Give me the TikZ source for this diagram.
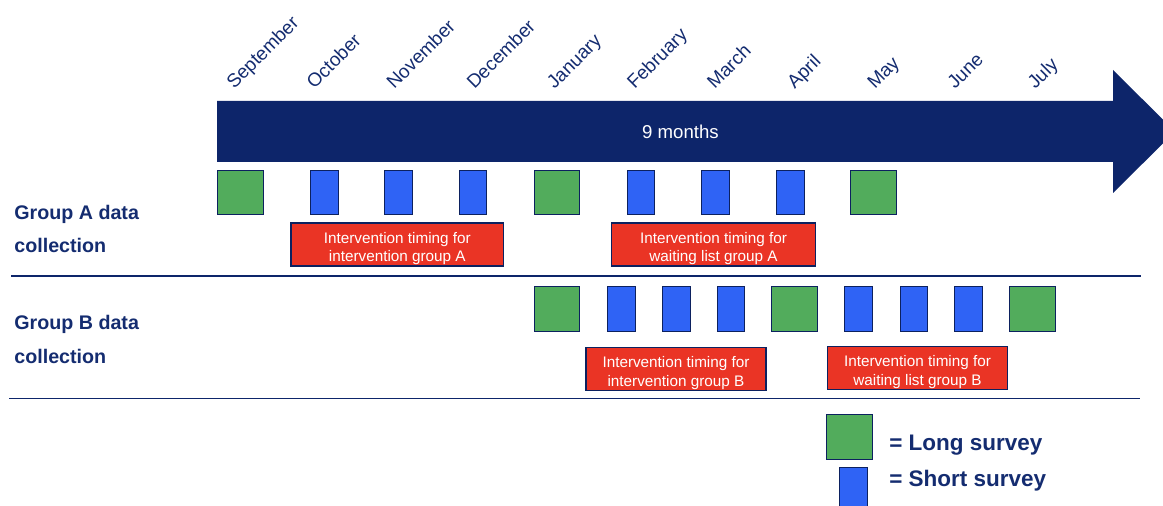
\documentclass[tikz,border=0pt]{standalone}
\usepackage{fontspec}
\setmainfont{Liberation Sans}
\usetikzlibrary{calc}
\definecolor{navy}{RGB}{13, 37, 106}
\definecolor{navytext}{RGB}{20, 44, 112}
\definecolor{longgreen}{RGB}{82, 172, 92}
\definecolor{shortblue}{RGB}{47, 99, 245}
\definecolor{interred}{RGB}{234, 52, 37}
\colorlet{navy-border}{navy!90!black}

\begin{document}
\begin{tikzpicture}[x=0.02cm, y=-0.02cm,
    longsurvey/.style={draw=navy-border, line width=0.8pt, fill=longgreen, minimum width=0.91cm, minimum height=0.89cm, inner sep=0pt},
    shortsurvey/.style={draw=navy-border, line width=0.8pt, fill=shortblue, minimum width=0.55cm, minimum height=0.89cm, inner sep=0pt},
    intbox/.style={draw=navy-border, line width=0.8pt, fill=interred, text=white, align=center, inner sep=0pt, minimum height=0.86cm, font=\fontsize{8.7}{10.5}\selectfont},
    monthlabel/.style={navytext, rotate=45, anchor=base west, inner sep=0pt, font=\fontsize{10.8}{12}\selectfont},
    grouplabel/.style={navytext, anchor=base west, inner sep=0pt, font=\fontsize{11.2}{13}\selectfont\bfseries},
    legendtext/.style={navytext, anchor=base west, inner sep=0pt, font=\fontsize{12.8}{15}\selectfont\bfseries}]

    \useasboundingbox (0,0) rectangle (1163,506);
    \clip (0,0) rectangle (1163,506);

    % time arrow
    \fill[navy] (217,101) -- (1113,101) -- (1113,70) -- (1175,131.5) -- (1113,193) -- (1113,162) -- (217,162) -- cycle;
    \node[white, anchor=base, inner sep=0pt, font=\fontsize{10.6}{12}\selectfont] (span) at (680.5,139) {9 months};

    \foreach \m [count=\i from 0] in {September, October, November, December, January, February, March, April, May, June, July}
        \node[monthlabel] (m\i) at ({234+80.1*\i},90) {\m};

    % group A
    \foreach \n/\cx/\kind in {a1/240.5/longsurvey, a2/324.5/shortsurvey, a3/398.5/shortsurvey, a4/473/shortsurvey, a5/557/longsurvey, a6/641/shortsurvey, a7/715.5/shortsurvey, a8/790.5/shortsurvey, a9/873.5/longsurvey}
        \node[\kind] (\n) at (\cx,192.5) {};

    \node[intbox, minimum width=4.25cm] (intA) at (397.3,244.5) {\rule{0pt}{11pt}Intervention timing for\\intervention group A};
    \node[intbox, minimum width=4.07cm] (waitA) at (713.5,244.5) {\rule{0pt}{11pt}Intervention timing for\\waiting list group A};

    \node[grouplabel] (grpA) at (14,220) {Group A data};
    \node[grouplabel] (grpAc) at (14,253) {collection};

    \draw[navy, line width=1.1pt] (11,275.7) -- (1141,275.7);

    % group B
    \foreach \n/\cx/\kind in {b1/557/longsurvey, b2/621.5/shortsurvey, b3/676.5/shortsurvey, b4/731/shortsurvey, b5/794.5/longsurvey, b6/858.5/shortsurvey, b7/914/shortsurvey, b8/968.5/shortsurvey, b9/1032.5/longsurvey}
        \node[\kind] (\n) at (\cx,309) {};

    \node[intbox, minimum width=3.6cm] (intB) at (676,369) {\rule{0pt}{11pt}Intervention timing for\\intervention group B};
    \node[intbox, minimum width=3.6cm] (waitB) at (917.5,368) {\rule{0pt}{11pt}Intervention timing for\\waiting list group B};

    \node[grouplabel] (grpB) at (14,330) {Group B data};
    \node[grouplabel] (grpBc) at (14,363.3) {collection};

    \draw[navy, line width=1.1pt] (9,398.5) -- (1140,398.5);

    % legend
    \node[longsurvey] (keyLong) at (849.5,437) {};
    \node[shortsurvey] (keyShort) at (853.5,490) {};
    \node[legendtext] (txtLong) at (889,450) {= Long survey};
    \node[legendtext] (txtShort) at (889,486) {= Short survey};

\end{tikzpicture}
\end{document}
